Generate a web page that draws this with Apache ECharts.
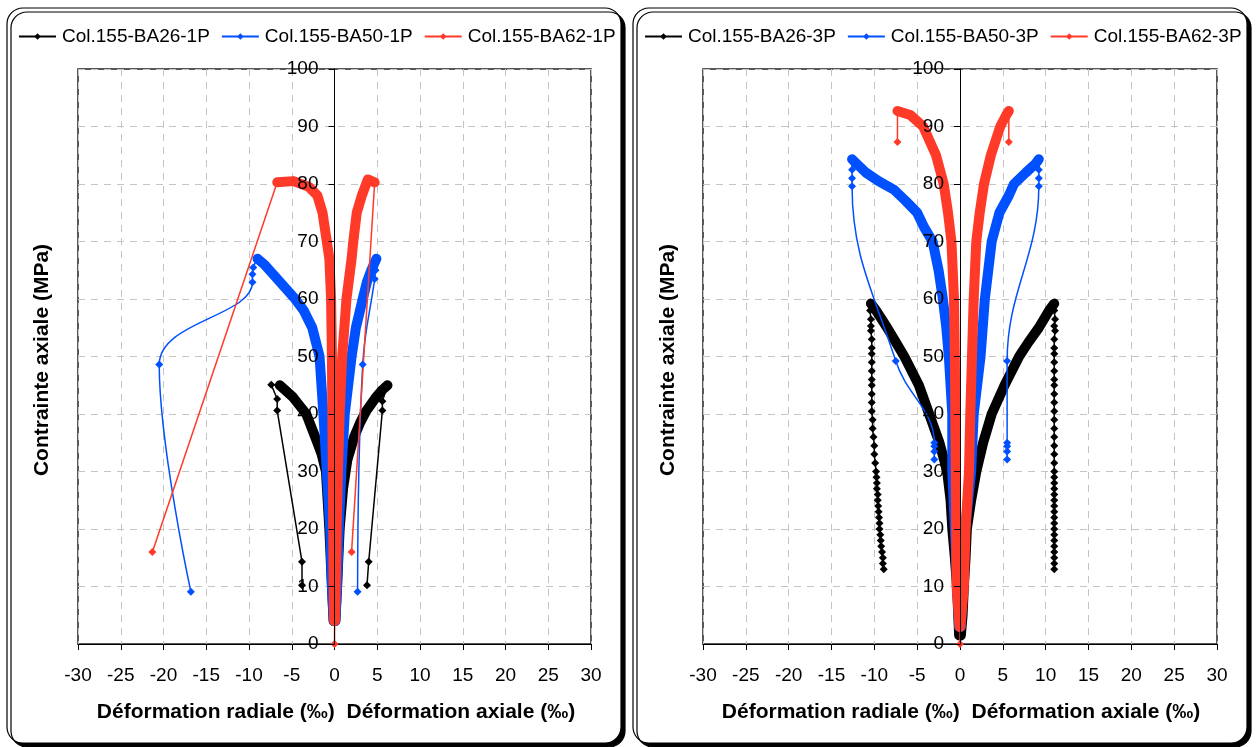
<!DOCTYPE html>
<html><head><meta charset="utf-8">
<script src="https://cdn.jsdelivr.net/npm/echarts@6/dist/echarts.min.js"></script>
<style>html,body{margin:0;padding:0;background:#fff}#c{width:1257px;height:747px}</style>
</head><body><div id="c"></div>
<script>
// ---------- texts ----------
const legend1P = ['Col.155-BA26-1P', 'Col.155-BA50-1P', 'Col.155-BA62-1P'];
const legend3P = ['Col.155-BA26-3P', 'Col.155-BA50-3P', 'Col.155-BA62-3P'];
const xTitle = 'Déformation radiale (‰)  Déformation axiale (‰)';
const yTitle = 'Contrainte axiale (MPa)';
const xRange = [-30, 30, 5];
const yRange = [0, 100, 10];

// ---------- panel 1P : [deformation ‰, stress MPa] ----------
const ba26_1P_axialLoad = [[0.1,4],[0.3,10],[0.6,20],[1.0,27],[1.5,32],[2.3,36],[3.0,38.5],[3.7,40.5],[4.9,43],[5.6,44.2],[6.2,45.0]];
const ba26_1P_axialPost = [[6.2,45.0],[5.6,42.2],[5.6,40.6],[4.0,14.3],[3.8,10.2]];
const ba26_1P_radialLoad = [[-0.1,4],[-0.3,10],[-0.6,20],[-1.0,30],[-1.5,33],[-2.0,35],[-3.3,40],[-4.9,43],[-6.4,45.0]];
const ba26_1P_radialPost = [[-6.4,45.0],[-7.4,45.1],[-6.7,42.6],[-6.7,40.6],[-3.8,14.3],[-3.8,10.2]];

const ba50_1P_axialLoad = [[0.1,4],[0.3,10],[0.5,20],[0.8,30],[1.2,40],[2.0,50],[2.5,55],[3.3,60],[3.8,63],[4.3,65],[4.9,67.0]];
const ba50_1P_axialPost = [[4.9,67.0],[4.8,65.0],[4.7,63.5],[3.3,48.6],[2.7,9.1]];
const ba50_1P_radialLoad = [[-0.1,4],[-0.3,10],[-0.5,20],[-0.9,30],[-1.3,40],[-1.75,50],[-2.6,55],[-3.6,58],[-4.6,60],[-5.8,62],[-7.0,64],[-8.2,66],[-9.0,67.0]];
const ba50_1P_radialPost = [[-9.0,67.0],[-9.5,65.5],[-9.6,64.3],[-9.6,62.9],[-20.5,48.6],[-16.8,9.1]];

const ba62_1P_start = [[0,0],[0.02,4]];
const ba62_1P_axialLoad = [[0.05,4],[0.15,10],[0.25,20],[0.4,30],[0.6,40],[0.9,50],[1.4,60],[2.0,67],[2.2,70],[2.6,75],[3.2,78],[3.9,80.8],[4.7,80.3]];
const ba62_1P_axialPost = [[4.7,80.3],[2.0,16.0]];
const ba62_1P_radialLoad = [[-0.05,4],[-0.1,10],[-0.15,20],[-0.2,30],[-0.25,40],[-0.3,50],[-0.4,60],[-0.6,67],[-0.9,70],[-1.4,75],[-2.0,78],[-3.0,79.5],[-4.8,80.5],[-6.7,80.3]];
const ba62_1P_radialPost = [[-6.7,80.3],[-21.3,16.0]];

// ---------- panel 3P ----------
const ba26_3P_axialLoad = [[0.1,1.5],[0.3,5],[0.45,10],[0.65,15],[0.8,20],[1.3,25],[1.9,30],[2.7,35],[3.7,40],[5.2,45],[6.9,50],[8.0,52.5],[9.2,55],[10.4,58],[11.0,59.2]];
const ba26_3P_axialPost = [[11.0,59.2],[11.0,58.0],[11.1,56.5],[11.0,55.3],[11.1,54.5],[11.0,53.0],[11.0,51.5],[11.0,50.5],[11.0,49.0],[11.0,47.5],[11.0,46.0],[11.0,45.0],[11.0,43.5],[11.0,42.0],[11.0,40.5],[11.0,39.0],[11.0,37.5],[11.0,36.0],[11.0,34.5],[11.0,33.0],[11.0,31.5],[11.0,30.0],[11.0,29.0],[11.0,28.0],[11.0,27.0],[11.0,26.0],[11.0,25.0],[11.0,24.0],[11.0,23.0],[11.0,22.0],[11.0,21.0],[11.0,20.0],[11.0,19.0],[11.0,18.0],[11.0,17.0],[11.0,16.0],[11.0,15.0],[11.0,14.0],[11.0,13.0]];
const ba26_3P_radialLoad = [[-0.1,1.5],[-0.2,5],[-0.35,10],[-0.6,15],[-0.9,20],[-1.1,25],[-1.5,30],[-2.4,35],[-3.6,40],[-4.8,45],[-6.5,50],[-7.5,52.5],[-8.5,55],[-9.8,58],[-10.4,59.2]];
const ba26_3P_radialPost = [[-10.4,59.2],[-10.5,58.0],[-10.4,56.5],[-10.4,55.3],[-10.4,54.5],[-10.3,53.0],[-10.3,51.5],[-10.3,50.5],[-10.3,49.0],[-10.3,47.5],[-10.3,46.0],[-10.3,45.0],[-10.3,43.5],[-10.3,42.0],[-10.3,40.5],[-10.2,39.0],[-10.2,37.5],[-10.1,36.0],[-10.0,34.5],[-10.0,33.0],[-9.9,31.5],[-9.8,30.0],[-9.75,29.0],[-9.7,28.0],[-9.7,27.0],[-9.6,26.0],[-9.6,25.0],[-9.55,24.0],[-9.5,23.0],[-9.45,22.0],[-9.4,21.0],[-9.4,20.0],[-9.3,19.0],[-9.25,18.0],[-9.2,17.0],[-9.1,16.0],[-9.0,15.0],[-9.0,14.0],[-8.9,13.0]];

const ba50_3P_axialLoad = [[0.1,3],[0.3,10],[0.6,20],[1.3,30],[1.6,40],[2.4,50],[2.9,60],[3.7,70],[4.6,75],[5.7,78],[6.3,80],[7.7,82],[8.8,83.5],[9.2,84.3]];
const ba50_3P_axialPost = [[9.2,84.3],[9.2,82.5],[9.2,81.0],[9.2,79.6],[5.5,49.2],[5.5,35.0],[5.5,34.4],[5.5,33.5],[5.5,32.1]];
const ba50_3P_radialLoad = [[-0.1,3],[-0.3,10],[-0.6,20],[-0.9,30],[-0.9,40],[-1.3,50],[-1.6,55],[-2.0,60],[-2.5,65],[-3.2,70],[-4.2,72.5],[-5.0,75],[-6.3,77],[-7.7,79],[-9.5,80.5],[-11.0,82],[-12.6,84.3]];
const ba50_3P_radialPost = [[-12.6,84.3],[-12.6,82.5],[-12.6,81.0],[-12.6,79.6],[-7.5,49.2],[-3.0,35.0],[-3.0,34.4],[-3.0,33.5],[-3.0,32.1]];

const ba62_3P_start = [[0,0],[0.02,3]];
const ba62_3P_axialLoad = [[0.05,3],[0.45,10],[0.65,20],[1.05,30],[1.2,40],[1.4,50],[1.6,60],[1.9,70],[2.3,75],[2.8,80],[3.6,85],[4.7,90],[5.4,92],[5.7,92.7]];
const ba62_3P_axialPost = [[5.7,92.7],[5.7,87.3]];
const ba62_3P_radialLoad = [[-0.05,3],[-0.4,10],[-0.45,20],[-0.5,30],[-0.55,40],[-0.6,50],[-0.7,60],[-1.0,70],[-1.4,75],[-1.9,80],[-2.8,85],[-4.3,90],[-5.8,92],[-7.3,92.7]];
const ba62_3P_radialPost = [[-7.3,92.7],[-7.3,87.3]];

// ---------- styling ----------
const FONT = '"Liberation Sans", Arial, sans-serif';
const BLACK = '#000000', BLUE = '#0050FF', RED = '#FF3A28';
const GRIDS = [{ left: 78, width: 513 }, { left: 703, width: 514 }];

function thin(name, data, color, gi, smooth) {
  return { type: 'line', name, data, xAxisIndex: gi, yAxisIndex: gi * 2,
    symbol: 'diamond', symbolSize: 8, showSymbol: true, showAllSymbol: true,
    smooth: smooth ? 0.4 : false, animation: false, clip: false,
    lineStyle: { color, width: 1.5 }, itemStyle: { color } };
}
function thick(name, data, color, gi) {
  return { type: 'line', name, data, xAxisIndex: gi, yAxisIndex: gi * 2,
    symbol: 'none', showSymbol: false, animation: false,
    lineStyle: { color, width: 10, cap: 'round', join: 'round' }, itemStyle: { color } };
}

function axesFor(gi) {
  const w = GRIDS[gi].width;
  const zeroOffset = -w * (0 - xRange[0]) / (xRange[1] - xRange[0]);
  const yBase = { type: 'value', gridIndex: gi, min: yRange[0], max: yRange[1], interval: yRange[2],
    position: 'left', offset: zeroOffset };
  return {
    x: { type: 'value', gridIndex: gi, min: xRange[0], max: xRange[1], interval: xRange[2],
      axisLine: { show: true, onZero: false, lineStyle: { color: '#000', width: 1 } },
      axisTick: { show: true, length: 6, lineStyle: { color: '#000' } },
      axisLabel: { color: '#000', fontSize: 19, fontFamily: FONT, margin: 22 },
      splitLine: { show: true, lineStyle: { color: '#c4c4c4', type: [7, 6], width: 1 } } },
    // grid lines (below the series)
    yGrid: Object.assign({}, yBase, {
      axisLine: { show: false }, axisTick: { show: false }, axisLabel: { show: false },
      splitLine: { show: true, lineStyle: { color: '#c4c4c4', type: [7, 6], width: 1 } } }),
    // axis line, ticks and labels (above the series)
    yLabels: Object.assign({}, yBase, { z: 10,
      axisLine: { show: true, onZero: false, lineStyle: { color: '#000', width: 1 } },
      axisTick: { show: true, length: 6, lineStyle: { color: '#000' } },
      axisLabel: { color: '#000', fontSize: 19, fontFamily: FONT, margin: 16 },
      splitLine: { show: false } })
  };
}
const a0 = axesFor(0), a1 = axesFor(1);

const series = [
  thin(legend1P[0], ba26_1P_axialPost, BLACK, 0),
  thick(legend1P[0], ba26_1P_axialLoad, BLACK, 0),
  thin(legend1P[0], ba26_1P_radialPost, BLACK, 0),
  thick(legend1P[0], ba26_1P_radialLoad, BLACK, 0),
  thin(legend1P[1], ba50_1P_axialPost, BLUE, 0, true),
  thick(legend1P[1], ba50_1P_axialLoad, BLUE, 0),
  thin(legend1P[1], ba50_1P_radialPost, BLUE, 0, true),
  thick(legend1P[1], ba50_1P_radialLoad, BLUE, 0),
  thin(legend1P[2], ba62_1P_start, RED, 0),
  thin(legend1P[2], ba62_1P_axialPost, RED, 0),
  thick(legend1P[2], ba62_1P_axialLoad, RED, 0),
  thin(legend1P[2], ba62_1P_radialPost, RED, 0),
  thick(legend1P[2], ba62_1P_radialLoad, RED, 0),

  thin(legend3P[0], ba26_3P_axialPost, BLACK, 1),
  thick(legend3P[0], ba26_3P_axialLoad, BLACK, 1),
  thin(legend3P[0], ba26_3P_radialPost, BLACK, 1),
  thick(legend3P[0], ba26_3P_radialLoad, BLACK, 1),
  thin(legend3P[1], ba50_3P_axialPost, BLUE, 1, true),
  thick(legend3P[1], ba50_3P_axialLoad, BLUE, 1),
  thin(legend3P[1], ba50_3P_radialPost, BLUE, 1, true),
  thick(legend3P[1], ba50_3P_radialLoad, BLUE, 1),
  thin(legend3P[2], ba62_3P_start, RED, 1),
  thin(legend3P[2], ba62_3P_axialPost, RED, 1),
  thick(legend3P[2], ba62_3P_axialLoad, RED, 1),
  thin(legend3P[2], ba62_3P_radialPost, RED, 1),
  thick(legend3P[2], ba62_3P_radialLoad, RED, 1)
];

function legendFor(names, left) {
  return { data: names, left, top: 22, width: 640, orient: 'horizontal', itemWidth: 37, itemHeight: 8, itemGap: 11,
    selectedMode: false, textStyle: { color: '#000', fontSize: 19, fontFamily: FONT, padding: [0,0,0,1] } };
}

function panel(x) {
  return { type: 'rect', z: -100, silent: true,
    shape: { x, y: 8, width: 614, height: 735, r: 16 },
    style: { fill: '#fff', stroke: '#000', lineWidth: 1.2, shadowColor: '#000', shadowOffsetX: 4, shadowOffsetY: 4, shadowBlur: 0.01 } };
}
function titleText(txt, x, y, rot) {
  return { type: 'text', z: 100, silent: true, x, y, rotation: rot,
    style: { text: txt, font: 'bold 21px ' + FONT, fill: '#000', align: 'center', verticalAlign: 'middle', textAlign: 'center', textVerticalAlign: 'middle' } };
}

const chart = echarts.init(document.getElementById('c'), null, { renderer: 'canvas' });
chart.setOption({
  backgroundColor: '#fff',
  animation: false,
  textStyle: { fontFamily: FONT },
  graphic: [
    panel(7), panel(633),
    titleText(xTitle, 336, 712, 0), titleText(xTitle, 961, 712, 0),
    titleText(yTitle, 42, 360, Math.PI / 2), titleText(yTitle, 668, 360, Math.PI / 2)
  ],
  legend: [legendFor(legend1P, 13), legendFor(legend3P, 639)],
  grid: [
    { left: GRIDS[0].left, width: GRIDS[0].width, top: 69, height: 575, show: true, borderColor: '#222', borderWidth: 1.5, backgroundColor: 'transparent' },
    { left: GRIDS[1].left, width: GRIDS[1].width, top: 69, height: 575, show: true, borderColor: '#222', borderWidth: 1.5, backgroundColor: 'transparent' }
  ],
  xAxis: [a0.x, a1.x],
  yAxis: [a0.yGrid, a0.yLabels, a1.yGrid, a1.yLabels],
  series
});
</script>
</body></html>
